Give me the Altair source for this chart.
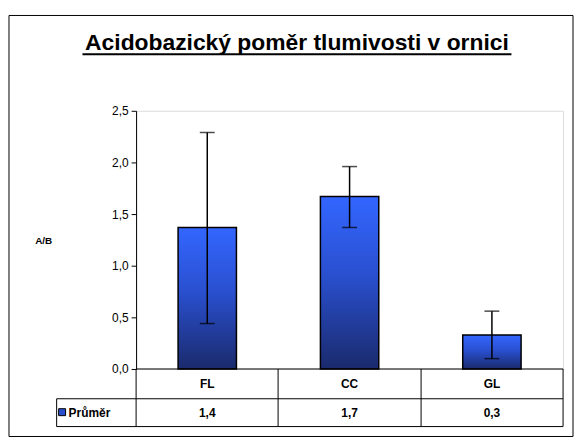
import altair as alt
import pandas as pd

# ---- data ----
categories = ["FL", "CC", "GL"]
means = [1.37, 1.67, 0.33]
err_low = [0.44, 1.37, 0.10]
err_high = [2.29, 1.96, 0.56]
y_ticks = [0.0, 0.5, 1.0, 1.5, 2.0, 2.5]
title_text = "Acidobazický poměr  tlumivosti v ornici"
y_title = "A/B"
legend_label = "Průměr"

df = pd.DataFrame({"cat": categories, "mean": means, "lo": err_low, "hi": err_high})

FONT = "Liberation Sans"
W, H = 430, 260

x_enc = alt.X("cat:N", sort=categories, axis=None,
              scale=alt.Scale(paddingInner=0.59, paddingOuter=0.295))

base = alt.Chart(df)

grad = alt.Gradient(
    gradient="linear",
    stops=[alt.GradientStop(color="#3366ff", offset=0),
           alt.GradientStop(color="#2a50d0", offset=0.45),
           alt.GradientStop(color="#1a2a6c", offset=1)],
    x1=0, x2=0, y1=0, y2=1,
)

bars = base.mark_bar(color=grad, stroke="#000000", strokeWidth=1.5).encode(
    x=x_enc,
    y=alt.Y("mean:Q", scale=alt.Scale(domain=[0, 2.5], nice=False),
            axis=alt.Axis(values=y_ticks, title=None, grid=False,
                          labelExpr="replace(format(datum.value, '.1f'), '.', ',')",
                          labelFont=FONT, labelFontSize=12, labelColor="#000000",
                          labelPadding=3, tickSize=5, tickColor="#000000",
                          domainColor="#000000", tickWidth=1, domainWidth=1)),
)

err_rule = base.mark_rule(color="#000000", strokeWidth=1.5).encode(
    x=x_enc, y="lo:Q", y2="hi:Q")
cap_hi = base.mark_tick(color="#000000", thickness=1.5, size=15).encode(x=x_enc, y="hi:Q")
cap_lo = base.mark_tick(color="#000000", thickness=1.5, size=15).encode(x=x_enc, y="lo:Q")

# ---- data table below the plot ----
row1 = base.mark_text(font=FONT, fontSize=12, fontWeight="bold", color="#000000",
                      baseline="middle").encode(x=x_enc, y=alt.value(275), text="cat:N")
row2 = base.transform_calculate(
    lbl="replace(format(datum.mean, '.1f'), '.', ',')"
).mark_text(font=FONT, fontSize=12, fontWeight="bold", color="#000000",
            baseline="middle").encode(x=x_enc, y=alt.value(304), text="lbl:N")

one = alt.Chart(pd.DataFrame({"k": [0]}))

def hline(x1, x2, y, color="#000000"):
    return one.mark_rule(color=color, strokeWidth=1).encode(
        x=alt.value(x1), x2=alt.value(x2), y=alt.value(y))

def vline(x, y1, y2, color="#000000"):
    return one.mark_rule(color=color, strokeWidth=1).encode(
        x=alt.value(x), y=alt.value(y1), y2=alt.value(y2))

table_lines = [
    hline(0, W, H),
    hline(-80, W, 290),
    hline(-80, W, 318),
    vline(0, H, 318),
    vline(143, H, 318),
    vline(287, H, 318),
    vline(W, H, 318),
    vline(-80, 290, 318),
]

legend_sq = one.mark_rect(color="#2a50d0", stroke="#000000", strokeWidth=1).encode(
    x=alt.value(-78), x2=alt.value(-71), y=alt.value(300), y2=alt.value(307))
legend_txt = one.mark_text(font=FONT, fontSize=12, fontWeight="bold", align="left",
                           baseline="middle", color="#000000").encode(
    x=alt.value(-68), y=alt.value(304), text=alt.value(legend_label))

ytitle = one.mark_text(font=FONT, fontSize=10, fontWeight="bold", align="center",
                       baseline="middle", color="#000000").encode(
    x=alt.value(-93), y=alt.value(131), text=alt.value(y_title))

title = one.mark_text(font=FONT, fontSize=23, fontWeight="bold", align="center",
                      baseline="alphabetic", color="#000000").encode(
    x=alt.value(162), y=alt.value(-61), text=alt.value(title_text))
underline = one.mark_rule(color="#000000", strokeWidth=2).encode(
    x=alt.value(-54), x2=alt.value(378), y=alt.value(-57))

frame = one.mark_rect(fill=None, stroke="#000000", strokeWidth=1).encode(
    x=alt.value(-128), x2=alt.value(440), y=alt.value(-96), y2=alt.value(328))

chart = alt.layer(
    frame, bars, err_rule, cap_hi, cap_lo, row1, row2, *table_lines,
    legend_sq, legend_txt, ytitle, title, underline,
).properties(
    width=W, height=H,
    padding={"left": 0, "top": 5, "right": 0, "bottom": 0},
).configure_view(stroke=None).configure(background="#ffffff")

chart.save("out.html", embed_options={"renderer": "svg", "actions": False})
